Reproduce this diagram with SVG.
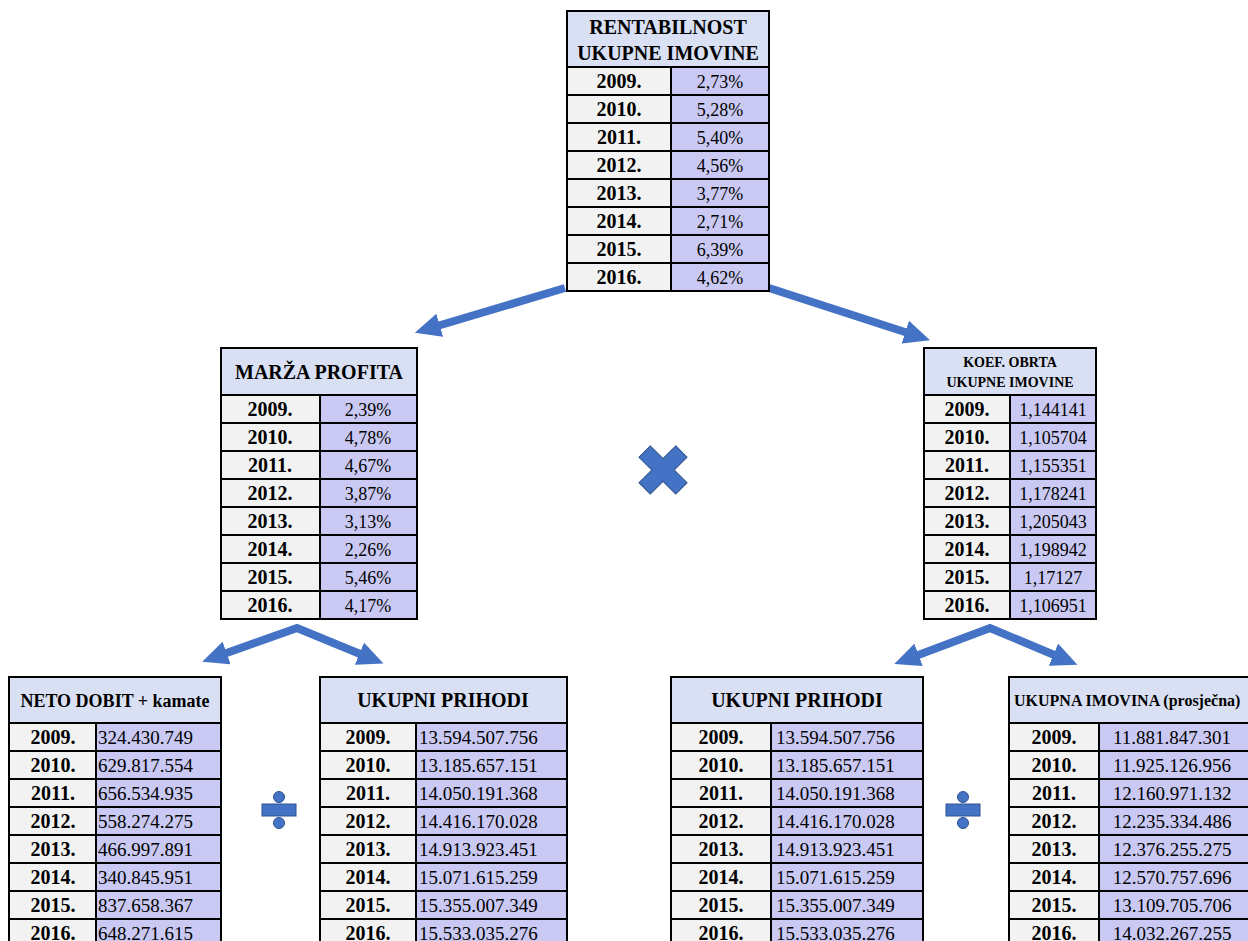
<svg xmlns="http://www.w3.org/2000/svg" width="1248" height="941" viewBox="0 0 1248 941">
<style>
.hd{fill:#DAE0F3;stroke:#000;stroke-width:2}
.yr{fill:#F2F2F2;stroke:#000;stroke-width:2}
.vl{fill:#C9C9F3;stroke:#000;stroke-width:2}
text{font-family:"Liberation Serif","Times New Roman",serif;fill:#000}
.h{font-weight:bold;font-size:20px;text-anchor:middle}
.y{font-weight:bold;font-size:20px;text-anchor:middle}
.v{font-size:19px}
.vc{font-size:18px;text-anchor:middle}
.conn{fill:none;stroke:#4472C4;stroke-width:8;stroke-linejoin:miter}
.op{fill:#4472C4;stroke:#2F528F;stroke-width:1}
</style>
<defs>
<marker id="ah" viewBox="0 0 26 24" refX="6" refY="12" markerWidth="26" markerHeight="24" markerUnits="userSpaceOnUse" orient="auto-start-reverse">
<path d="M0,0 L26,12 L0,24 z" fill="#4472C4"/>
</marker>
</defs>
<rect width="1248" height="941" fill="#fff"/>

<g id="connectors">
<path class="conn" d="M565,288 L434,327" marker-end="url(#ah)"/>
<path class="conn" d="M769,288 L911,334" marker-end="url(#ah)"/>
<path class="conn" d="M221,655 L297,628 L365,656" marker-start="url(#ah)" marker-end="url(#ah)"/>
<path class="conn" d="M913,657 L990,628 L1059,657" marker-start="url(#ah)" marker-end="url(#ah)"/>
</g>

<g id="multiply">
<polygon class="op" transform="translate(663,470) rotate(45)" points="-8,-26 8,-26 8,-8 26,-8 26,8 8,8 8,26 -8,26 -8,8 -26,8 -26,-8 -8,-8"/>
</g>
<g id="divide-left">
<circle class="op" cx="279" cy="797" r="5.5"/>
<rect class="op" x="262" y="804" width="34" height="12"/>
<circle class="op" cx="279" cy="823" r="5.5"/>
</g>
<g id="divide-right">
<circle class="op" cx="963" cy="797" r="5.5"/>
<rect class="op" x="946" y="804" width="34" height="12"/>
<circle class="op" cx="963" cy="823" r="5.5"/>
</g>

<g id="rentabilnost">
<rect class="hd" x="567" y="11" width="202" height="56"/>
<text class="h" x="668" y="34">RENTABILNOST</text>
<text class="h" x="668" y="60">UKUPNE IMOVINE</text>
<rect class="yr" x="567" y="67" width="104" height="28"/><rect class="vl" x="671" y="67" width="98" height="28"/>
<rect class="yr" x="567" y="95" width="104" height="28"/><rect class="vl" x="671" y="95" width="98" height="28"/>
<rect class="yr" x="567" y="123" width="104" height="28"/><rect class="vl" x="671" y="123" width="98" height="28"/>
<rect class="yr" x="567" y="151" width="104" height="28"/><rect class="vl" x="671" y="151" width="98" height="28"/>
<rect class="yr" x="567" y="179" width="104" height="28"/><rect class="vl" x="671" y="179" width="98" height="28"/>
<rect class="yr" x="567" y="207" width="104" height="28"/><rect class="vl" x="671" y="207" width="98" height="28"/>
<rect class="yr" x="567" y="235" width="104" height="28"/><rect class="vl" x="671" y="235" width="98" height="28"/>
<rect class="yr" x="567" y="263" width="104" height="28"/><rect class="vl" x="671" y="263" width="98" height="28"/>
<text class="y" x="619" y="88">2009.</text><text class="vc" x="720" y="88">2,73%</text>
<text class="y" x="619" y="116">2010.</text><text class="vc" x="720" y="116">5,28%</text>
<text class="y" x="619" y="144">2011.</text><text class="vc" x="720" y="144">5,40%</text>
<text class="y" x="619" y="172">2012.</text><text class="vc" x="720" y="172">4,56%</text>
<text class="y" x="619" y="200">2013.</text><text class="vc" x="720" y="200">3,77%</text>
<text class="y" x="619" y="228">2014.</text><text class="vc" x="720" y="228">2,71%</text>
<text class="y" x="619" y="256">2015.</text><text class="vc" x="720" y="256">6,39%</text>
<text class="y" x="619" y="284">2016.</text><text class="vc" x="720" y="284">4,62%</text>
</g>

<g id="marza">
<rect class="hd" x="221" y="348" width="196" height="47"/>
<text class="h" x="319" y="379">MARŽA PROFITA</text>
<rect class="yr" x="221" y="395" width="99" height="28"/><rect class="vl" x="320" y="395" width="97" height="28"/>
<rect class="yr" x="221" y="423" width="99" height="28"/><rect class="vl" x="320" y="423" width="97" height="28"/>
<rect class="yr" x="221" y="451" width="99" height="28"/><rect class="vl" x="320" y="451" width="97" height="28"/>
<rect class="yr" x="221" y="479" width="99" height="28"/><rect class="vl" x="320" y="479" width="97" height="28"/>
<rect class="yr" x="221" y="507" width="99" height="28"/><rect class="vl" x="320" y="507" width="97" height="28"/>
<rect class="yr" x="221" y="535" width="99" height="28"/><rect class="vl" x="320" y="535" width="97" height="28"/>
<rect class="yr" x="221" y="563" width="99" height="28"/><rect class="vl" x="320" y="563" width="97" height="28"/>
<rect class="yr" x="221" y="591" width="99" height="28"/><rect class="vl" x="320" y="591" width="97" height="28"/>
<text class="y" x="270" y="416">2009.</text><text class="vc" x="368" y="416">2,39%</text>
<text class="y" x="270" y="444">2010.</text><text class="vc" x="368" y="444">4,78%</text>
<text class="y" x="270" y="472">2011.</text><text class="vc" x="368" y="472">4,67%</text>
<text class="y" x="270" y="500">2012.</text><text class="vc" x="368" y="500">3,87%</text>
<text class="y" x="270" y="528">2013.</text><text class="vc" x="368" y="528">3,13%</text>
<text class="y" x="270" y="556">2014.</text><text class="vc" x="368" y="556">2,26%</text>
<text class="y" x="270" y="584">2015.</text><text class="vc" x="368" y="584">5,46%</text>
<text class="y" x="270" y="612">2016.</text><text class="vc" x="368" y="612">4,17%</text>
</g>

<g id="koef">
<rect class="hd" x="924" y="348" width="172" height="47"/>
<text class="h" x="1010" y="367" style="font-size:14px">KOEF. OBRTA</text>
<text class="h" x="1010" y="387" style="font-size:14px">UKUPNE IMOVINE</text>
<rect class="yr" x="924" y="395" width="86" height="28"/><rect class="vl" x="1010" y="395" width="86" height="28"/>
<rect class="yr" x="924" y="423" width="86" height="28"/><rect class="vl" x="1010" y="423" width="86" height="28"/>
<rect class="yr" x="924" y="451" width="86" height="28"/><rect class="vl" x="1010" y="451" width="86" height="28"/>
<rect class="yr" x="924" y="479" width="86" height="28"/><rect class="vl" x="1010" y="479" width="86" height="28"/>
<rect class="yr" x="924" y="507" width="86" height="28"/><rect class="vl" x="1010" y="507" width="86" height="28"/>
<rect class="yr" x="924" y="535" width="86" height="28"/><rect class="vl" x="1010" y="535" width="86" height="28"/>
<rect class="yr" x="924" y="563" width="86" height="28"/><rect class="vl" x="1010" y="563" width="86" height="28"/>
<rect class="yr" x="924" y="591" width="86" height="28"/><rect class="vl" x="1010" y="591" width="86" height="28"/>
<text class="y" x="967" y="416">2009.</text><text class="vc" x="1053" y="416">1,144141</text>
<text class="y" x="967" y="444">2010.</text><text class="vc" x="1053" y="444">1,105704</text>
<text class="y" x="967" y="472">2011.</text><text class="vc" x="1053" y="472">1,155351</text>
<text class="y" x="967" y="500">2012.</text><text class="vc" x="1053" y="500">1,178241</text>
<text class="y" x="967" y="528">2013.</text><text class="vc" x="1053" y="528">1,205043</text>
<text class="y" x="967" y="556">2014.</text><text class="vc" x="1053" y="556">1,198942</text>
<text class="y" x="967" y="584">2015.</text><text class="vc" x="1053" y="584">1,17127</text>
<text class="y" x="967" y="612">2016.</text><text class="vc" x="1053" y="612">1,106951</text>
</g>

<g id="neto-dobit">
<rect class="hd" x="9" y="677" width="212" height="46"/>
<text class="h" x="115" y="707" style="font-size:18px">NETO DOBIT + kamate</text>
<rect class="yr" x="9" y="723" width="87" height="28"/><rect class="vl" x="96" y="723" width="125" height="28"/>
<rect class="yr" x="9" y="751" width="87" height="28"/><rect class="vl" x="96" y="751" width="125" height="28"/>
<rect class="yr" x="9" y="779" width="87" height="28"/><rect class="vl" x="96" y="779" width="125" height="28"/>
<rect class="yr" x="9" y="807" width="87" height="28"/><rect class="vl" x="96" y="807" width="125" height="28"/>
<rect class="yr" x="9" y="835" width="87" height="28"/><rect class="vl" x="96" y="835" width="125" height="28"/>
<rect class="yr" x="9" y="863" width="87" height="28"/><rect class="vl" x="96" y="863" width="125" height="28"/>
<rect class="yr" x="9" y="891" width="87" height="28"/><rect class="vl" x="96" y="891" width="125" height="28"/>
<rect class="yr" x="9" y="919" width="87" height="28"/><rect class="vl" x="96" y="919" width="125" height="28"/>
<text class="y" x="53" y="744">2009.</text><text class="v" x="98" y="744">324.430.749</text>
<text class="y" x="53" y="772">2010.</text><text class="v" x="98" y="772">629.817.554</text>
<text class="y" x="53" y="800">2011.</text><text class="v" x="98" y="800">656.534.935</text>
<text class="y" x="53" y="828">2012.</text><text class="v" x="98" y="828">558.274.275</text>
<text class="y" x="53" y="856">2013.</text><text class="v" x="98" y="856">466.997.891</text>
<text class="y" x="53" y="884">2014.</text><text class="v" x="98" y="884">340.845.951</text>
<text class="y" x="53" y="912">2015.</text><text class="v" x="98" y="912">837.658.367</text>
<text class="y" x="53" y="940">2016.</text><text class="v" x="98" y="940">648.271.615</text>
</g>

<g id="ukupni-prihodi-left">
<rect class="hd" x="320" y="677" width="247" height="46"/>
<text class="h" x="443" y="707">UKUPNI PRIHODI</text>
<rect class="yr" x="320" y="723" width="96" height="28"/><rect class="vl" x="416" y="723" width="151" height="28"/>
<rect class="yr" x="320" y="751" width="96" height="28"/><rect class="vl" x="416" y="751" width="151" height="28"/>
<rect class="yr" x="320" y="779" width="96" height="28"/><rect class="vl" x="416" y="779" width="151" height="28"/>
<rect class="yr" x="320" y="807" width="96" height="28"/><rect class="vl" x="416" y="807" width="151" height="28"/>
<rect class="yr" x="320" y="835" width="96" height="28"/><rect class="vl" x="416" y="835" width="151" height="28"/>
<rect class="yr" x="320" y="863" width="96" height="28"/><rect class="vl" x="416" y="863" width="151" height="28"/>
<rect class="yr" x="320" y="891" width="96" height="28"/><rect class="vl" x="416" y="891" width="151" height="28"/>
<rect class="yr" x="320" y="919" width="96" height="28"/><rect class="vl" x="416" y="919" width="151" height="28"/>
<text class="y" x="368" y="744">2009.</text><text class="v" x="419" y="744">13.594.507.756</text>
<text class="y" x="368" y="772">2010.</text><text class="v" x="419" y="772">13.185.657.151</text>
<text class="y" x="368" y="800">2011.</text><text class="v" x="419" y="800">14.050.191.368</text>
<text class="y" x="368" y="828">2012.</text><text class="v" x="419" y="828">14.416.170.028</text>
<text class="y" x="368" y="856">2013.</text><text class="v" x="419" y="856">14.913.923.451</text>
<text class="y" x="368" y="884">2014.</text><text class="v" x="419" y="884">15.071.615.259</text>
<text class="y" x="368" y="912">2015.</text><text class="v" x="419" y="912">15.355.007.349</text>
<text class="y" x="368" y="940">2016.</text><text class="v" x="419" y="940">15.533.035.276</text>
</g>

<g id="ukupni-prihodi-right">
<rect class="hd" x="671" y="677" width="252" height="46"/>
<text class="h" x="797" y="707">UKUPNI PRIHODI</text>
<rect class="yr" x="671" y="723" width="100" height="28"/><rect class="vl" x="771" y="723" width="152" height="28"/>
<rect class="yr" x="671" y="751" width="100" height="28"/><rect class="vl" x="771" y="751" width="152" height="28"/>
<rect class="yr" x="671" y="779" width="100" height="28"/><rect class="vl" x="771" y="779" width="152" height="28"/>
<rect class="yr" x="671" y="807" width="100" height="28"/><rect class="vl" x="771" y="807" width="152" height="28"/>
<rect class="yr" x="671" y="835" width="100" height="28"/><rect class="vl" x="771" y="835" width="152" height="28"/>
<rect class="yr" x="671" y="863" width="100" height="28"/><rect class="vl" x="771" y="863" width="152" height="28"/>
<rect class="yr" x="671" y="891" width="100" height="28"/><rect class="vl" x="771" y="891" width="152" height="28"/>
<rect class="yr" x="671" y="919" width="100" height="28"/><rect class="vl" x="771" y="919" width="152" height="28"/>
<text class="y" x="721" y="744">2009.</text><text class="v" x="776" y="744">13.594.507.756</text>
<text class="y" x="721" y="772">2010.</text><text class="v" x="776" y="772">13.185.657.151</text>
<text class="y" x="721" y="800">2011.</text><text class="v" x="776" y="800">14.050.191.368</text>
<text class="y" x="721" y="828">2012.</text><text class="v" x="776" y="828">14.416.170.028</text>
<text class="y" x="721" y="856">2013.</text><text class="v" x="776" y="856">14.913.923.451</text>
<text class="y" x="721" y="884">2014.</text><text class="v" x="776" y="884">15.071.615.259</text>
<text class="y" x="721" y="912">2015.</text><text class="v" x="776" y="912">15.355.007.349</text>
<text class="y" x="721" y="940">2016.</text><text class="v" x="776" y="940">15.533.035.276</text>
</g>

<g id="ukupna-imovina">
<rect class="hd" x="1009" y="677" width="250" height="46"/>
<text x="1014" y="706" style="font-weight:bold;font-size:16px">UKUPNA IMOVINA (prosječna)</text>
<rect class="yr" x="1009" y="723" width="90" height="28"/><rect class="vl" x="1099" y="723" width="160" height="28"/>
<rect class="yr" x="1009" y="751" width="90" height="28"/><rect class="vl" x="1099" y="751" width="160" height="28"/>
<rect class="yr" x="1009" y="779" width="90" height="28"/><rect class="vl" x="1099" y="779" width="160" height="28"/>
<rect class="yr" x="1009" y="807" width="90" height="28"/><rect class="vl" x="1099" y="807" width="160" height="28"/>
<rect class="yr" x="1009" y="835" width="90" height="28"/><rect class="vl" x="1099" y="835" width="160" height="28"/>
<rect class="yr" x="1009" y="863" width="90" height="28"/><rect class="vl" x="1099" y="863" width="160" height="28"/>
<rect class="yr" x="1009" y="891" width="90" height="28"/><rect class="vl" x="1099" y="891" width="160" height="28"/>
<rect class="yr" x="1009" y="919" width="90" height="28"/><rect class="vl" x="1099" y="919" width="160" height="28"/>
<text class="y" x="1054" y="744">2009.</text><text class="vc" x="1172" y="744" style="font-size:19px">11.881.847.301</text>
<text class="y" x="1054" y="772">2010.</text><text class="vc" x="1172" y="772" style="font-size:19px">11.925.126.956</text>
<text class="y" x="1054" y="800">2011.</text><text class="vc" x="1172" y="800" style="font-size:19px">12.160.971.132</text>
<text class="y" x="1054" y="828">2012.</text><text class="vc" x="1172" y="828" style="font-size:19px">12.235.334.486</text>
<text class="y" x="1054" y="856">2013.</text><text class="vc" x="1172" y="856" style="font-size:19px">12.376.255.275</text>
<text class="y" x="1054" y="884">2014.</text><text class="vc" x="1172" y="884" style="font-size:19px">12.570.757.696</text>
<text class="y" x="1054" y="912">2015.</text><text class="vc" x="1172" y="912" style="font-size:19px">13.109.705.706</text>
<text class="y" x="1054" y="940">2016.</text><text class="vc" x="1172" y="940" style="font-size:19px">14.032.267.255</text>
</g>
</svg>
